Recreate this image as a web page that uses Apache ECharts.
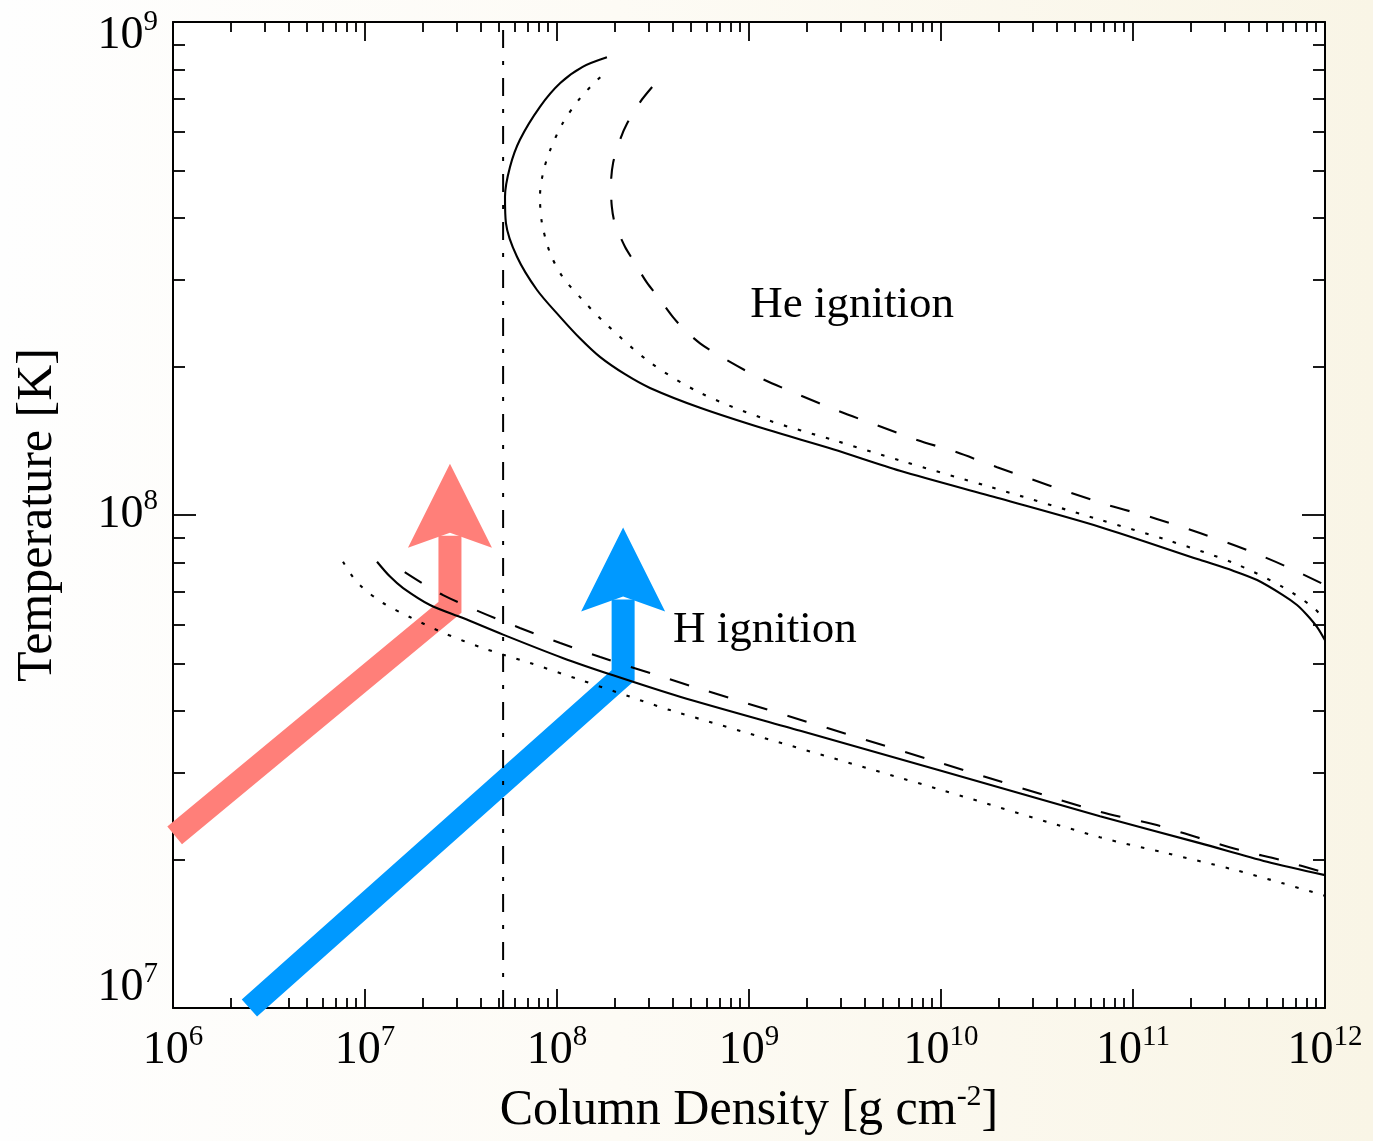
<!DOCTYPE html>
<html>
<head>
<meta charset="utf-8">
<title>Ignition curves</title>
<script src="https://cdn.jsdelivr.net/npm/echarts@6/dist/echarts.min.js"></script>
<style>
  html, body { margin: 0; padding: 0; }
  body { background: linear-gradient(to right, #fefefe 0%, #fdfbf5 45%, #f9f5e6 100%); }
  #chart { width: 1373px; height: 1141px; }
</style>
</head>
<body>
<div id="chart"></div>
<script>
// ---- Ignition curves: [column density (g cm^-2), temperature (K)] ----
const heSolid = [[1.82e8,8.48e8],[1.36e8,8.11e8],[1.04e8,7.52e8],[8.15e7,6.73e8],[6.41e7,5.77e8],[5.69e7,5.08e8],
  [5.36e7,4.42e8],[5.42e7,3.91e8],[6.19e7,3.34e8],[7.87e7,2.86e8],[1.04e8,2.52e8],[1.32e8,2.28e8],[1.68e8,2.09e8],
  [2.26e8,1.93e8],[3.05e8,1.81e8],[5.56e8,1.65e8],[1.24e9,1.49e8],[2.74e9,1.36e8],[6.11e9,1.23e8],[2.03e10,1.08e8],
  [6.73e10,9.46e7],[2.23e11,8.11e7],[3.32e11,7.71e7],[4.43e11,7.38e7],[6.04e11,6.88e7],[7.15e11,6.57e7],
  [8.06e11,6.27e7],[9.08e11,5.93e7],[1e12,5.57e7]];
const heDotted = [[1.68e8,7.73e8],[1.32e8,7.01e8],[1.07e8,6.23e8],[9.2e7,5.49e8],[8.46e7,4.94e8],[8.15e7,4.42e8],
  [8.35e7,3.91e8],[9.2e7,3.40e8],[1.07e8,3.04e8],[1.36e8,2.73e8],[1.78e8,2.45e8],[3.05e8,2.04e8],[5.56e8,1.77e8],
  [1.24e9,1.56e8],[2.74e9,1.42e8],[6.11e9,1.29e8],[1.80e10,1.14e8],[6.73e10,9.78e7],[1.50e11,8.90e7],[3.32e11,8.0e7],
  [6.04e11,7.14e7],[8.66e11,6.50e7],[1e12,6.12e7]];
const heDashed = [[3.13e8,7.38e8],[2.71e8,6.88e8],[2.32e8,6.23e8],[2.13e8,5.77e8],[1.96e8,5.18e8],[1.91e8,4.67e8],
  [1.93e8,4.22e8],[2.0e8,3.91e8],[2.26e8,3.50e8],[2.49e8,3.29e8],[2.94e8,2.96e8],[3.36e8,2.77e8],[4.02e8,2.52e8],
  [4.64e8,2.37e8],[5.56e8,2.23e8],[7.06e8,2.10e8],[1.10e9,1.91e8],[1.78e9,1.76e8],[2.87e9,1.63e8],[4.64e9,1.52e8],
  [7.5e9,1.42e8],[1.21e10,1.34e8],[1.96e10,1.25e8],[6.73e10,1.06e8],[1.33e11,9.82e7],[2.23e11,9.19e7],
  [3.92e11,8.49e7],[6.34e11,7.85e7],[1e12,7.21e7]];
const hSolid = [[1.155e7,8.04e7],[1.35e7,7.50e7],[1.58e7,7.11e7],[2.18e7,6.57e7],[3.24e7,6.18e7],[5.24e7,5.72e7],
  [1.07e8,5.13e7],[1.96e8,4.73e7],[4.37e8,4.28e7],[1.85e9,3.65e7],[1e10,3.03e7],[6.73e10,2.45e7],
  [2.23e11,2.16e7],[4.99e11,1.98e7],[1e12,1.86e7]];
const hDashed = [[1.61e7,7.66e7],[1.98e7,7.28e7],[2.55e7,6.88e7],[3.97e7,6.36e7],[6.41e7,5.90e7],[1.04e8,5.50e7],
  [1.68e8,5.15e7],[3.56e8,4.69e7],[5.56e8,4.44e7],[1e10,3.14e7],[6.73e10,2.50e7],[1.33e11,2.35e7],[2.23e11,2.21e7],
  [3.61e11,2.09e7],[6.04e11,1.99e7],[1e12,1.88e7]];
const hDotted = [[7.68e6,8.04e7],[8.66e6,7.48e7],[9.77e6,7.11e7],[1.24e7,6.63e7],[1.71e7,6.21e7],[2.55e7,5.77e7],
  [4.12e7,5.37e7],[7.23e7,5.01e7],[1.32e8,4.63e7],[2.40e8,4.28e7],[3.88e8,4.02e7],[1e10,2.77e7],[6.73e10,2.22e7],
  [1.50e11,2.06e7],[3.32e11,1.91e7],[6.04e11,1.79e7],[1e12,1.69e7]];

// vertical marker at fixed column density
const columnMark = 5.24e7;
const columnMarkLine = [[columnMark, 1e7], [columnMark, 1e9]];

// heating tracks: start, turn, arrow tip
const redTrack = [[1.02e6, 2.24e7], [2.77e7, 6.5e7], [2.77e7, 1.27e8]];
const blueTrack = [[2.5e6, 1.0e7], [2.21e8, 4.73e7], [2.21e8, 9.43e7]];

// region labels
const regionLabels = [
  { name: 'He ignition', value: [1.01e9, 2.67e8] },
  { name: 'H ignition', value: [4.0e8, 5.85e7] }
];

// axis ticks
const xDecades = [1e6, 1e7, 1e8, 1e9, 1e10, 1e11, 1e12];
const yDecades = [1e7, 1e8, 1e9];
const mantissas = [2, 3, 4, 5, 6, 7, 8, 9];
const minorOf = (decades) => {
  const out = [];
  for (let i = 0; i < decades.length - 1; i++) mantissas.forEach(m => out.push(m * decades[i]));
  return out;
};
const xMinor = minorOf(xDecades);
const yMinor = minorOf(yDecades);

const SERIF = '"Liberation Serif", "Times New Roman", serif';
const INK = '#000';

const powRich = {
  b: { fontFamily: SERIF, fontSize: 46, lineHeight: 56, color: INK },
  s: { fontFamily: SERIF, fontSize: 29, lineHeight: 32, verticalAlign: 'top', color: INK }
};
const powLabel = (v) => '{b|10}{s|' + Math.round(Math.log10(v)) + '}';

function xAxisDef(pos, ticks, len, line, labels) {
  return {
    type: 'log', logBase: 10, min: 1e6, max: 1e12, position: pos, gridIndex: 0,
    axisLine: { show: line, onZero: false, lineStyle: { color: INK, width: 2 } },
    axisTick: { show: true, inside: true, length: len, customValues: ticks, lineStyle: { color: INK, width: 1.8 } },
    axisLabel: labels
      ? { show: true, margin: 15, customValues: ticks, formatter: powLabel, rich: powRich, showMinLabel: true, showMaxLabel: true }
      : { show: false },
    splitLine: { show: false }, minorTick: { show: false }, minorSplitLine: { show: false },
    axisPointer: { show: false }, silent: true
  };
}
function yAxisDef(pos, ticks, len, line, labelValues, padding) {
  return {
    type: 'log', logBase: 10, min: 1e7, max: 1e9, position: pos, gridIndex: 0,
    axisLine: { show: line, onZero: false, lineStyle: { color: INK, width: 2 } },
    axisTick: { show: !!ticks, inside: true, length: len, customValues: ticks || [], lineStyle: { color: INK, width: 1.8 } },
    axisLabel: labelValues
      ? { show: true, margin: 15, customValues: labelValues, formatter: powLabel, rich: powRich,
          padding: padding || 0, showMinLabel: true, showMaxLabel: true }
      : { show: false },
    splitLine: { show: false }, minorTick: { show: false }, minorSplitLine: { show: false },
    axisPointer: { show: false }, silent: true
  };
}

const xMain = xAxisDef('bottom', xDecades, 19, true, true);
Object.assign(xMain, {
  name: '{n|Column Density [g cm}{s|-2}{n|]}',
  nameLocation: 'middle', nameGap: 74, nameMoveOverlap: false,
  nameTextStyle: {
    rich: {
      n: { fontFamily: SERIF, fontSize: 50, lineHeight: 58, color: INK },
      s: { fontFamily: SERIF, fontSize: 30, lineHeight: 32, verticalAlign: 'top', color: INK }
    }
  }
});
const yMain = yAxisDef('left', yDecades, 23, true, [1e8]);
Object.assign(yMain, {
  name: 'Temperature [K]', nameLocation: 'middle', nameGap: 107, nameRotate: 90, nameMoveOverlap: false,
  nameTextStyle: { fontFamily: SERIF, fontSize: 50, lineHeight: 56, color: INK }
});

function curve(data, dash) {
  return {
    type: 'line', data: data, xAxisIndex: 0, yAxisIndex: 0, symbol: 'none', showSymbol: false,
    smooth: 0.3, silent: true, z: 3, animation: false,
    lineStyle: { color: INK, width: 2.1, type: dash, cap: 'butt' }
  };
}

// thick track with a swept-back arrowhead at its last point
function track(path, color) {
  return {
    type: 'custom', xAxisIndex: 0, yAxisIndex: 0, z: 1, silent: true, clip: false, animation: false,
    data: [path[path.length - 1]],
    renderItem: function (params, api) {
      const pts = path.map(p => api.coord(p));
      const tip = pts[pts.length - 1];
      const prev = pts[pts.length - 2];
      const dx = tip[0] - prev[0], dy = tip[1] - prev[1];
      const L = Math.hypot(dx, dy) || 1;
      const ux = dx / L, uy = dy / L, nx = -uy, ny = ux;
      const headLen = 84, notch = 69, half = 42;
      const shaftEnd = [tip[0] - ux * (notch + 3), tip[1] - uy * (notch + 3)];
      const shaft = pts.slice(0, -1).concat([shaftEnd]);
      const head = [
        tip,
        [tip[0] - ux * headLen + nx * half, tip[1] - uy * headLen + ny * half],
        [tip[0] - ux * notch, tip[1] - uy * notch],
        [tip[0] - ux * headLen - nx * half, tip[1] - uy * headLen - ny * half]
      ];
      return {
        type: 'group',
        children: [
          { type: 'polyline', shape: { points: shaft },
            style: { stroke: color, lineWidth: 23, fill: null, lineJoin: 'miter', lineCap: 'butt' } },
          { type: 'polygon', shape: { points: head }, style: { fill: color } }
        ]
      };
    }
  };
}

const chart = echarts.init(document.getElementById('chart'), null, { renderer: 'canvas' });
chart.setOption({
  animation: false,
  backgroundColor: 'transparent',
  grid: {
    left: 173, right: 48, top: 22, bottom: 133,
    show: true, backgroundColor: '#ffffff', borderWidth: 0,
    containLabel: false, outerBoundsMode: 'none'
  },
  xAxis: [
    xMain,
    xAxisDef('bottom', xMinor, 10, false, false),
    xAxisDef('top', xDecades, 19, true, false),
    xAxisDef('top', xMinor, 10, false, false)
  ],
  yAxis: [
    yMain,
    yAxisDef('left', yMinor, 12, false, null),
    yAxisDef('right', yDecades, 23, true, null),
    yAxisDef('right', yMinor, 12, false, null),
    yAxisDef('left', null, 0, false, [1e9], [28, 0, 0, 0]),
    yAxisDef('left', null, 0, false, [1e7], [0, 0, 40, 0])
  ],
  series: [
    track(redTrack, '#ff7f79'),
    track(blueTrack, '#0099ff'),
    curve(heSolid, 'solid'),
    curve(heDotted, [3.5, 11]),
    curve(heDashed, [20, 21]),
    curve(hSolid, 'solid'),
    curve(hDotted, [3.5, 11]),
    curve(hDashed, [20, 21]),
    {
      type: 'line', data: columnMarkLine, xAxisIndex: 0, yAxisIndex: 0, symbol: 'none', silent: true, z: 3,
      lineStyle: { color: INK, width: 2, type: [18, 13, 4, 13] }
    },
    {
      type: 'scatter', data: regionLabels, xAxisIndex: 0, yAxisIndex: 0, symbolSize: 1, silent: true, z: 4,
      itemStyle: { color: 'rgba(0,0,0,0)' },
      label: { show: true, position: 'right', distance: 0, formatter: '{b}',
               fontFamily: SERIF, fontSize: 45, color: INK, opacity: 1 }
    }
  ]
});
</script>
</body>
</html>
